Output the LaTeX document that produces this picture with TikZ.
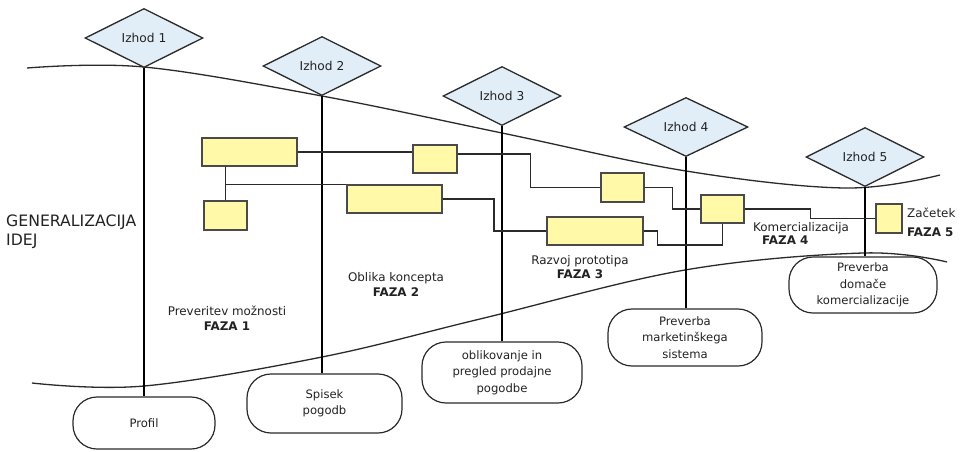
\documentclass[tikz,border=0pt]{standalone}
\usepackage{fontspec}
\setmainfont{DejaVu Sans}
\usetikzlibrary{shapes.geometric}
\definecolor{dfill}{HTML}{E1EEF8}
\definecolor{yfill}{HTML}{FFF9A8}
\definecolor{ln}{HTML}{2A2A2A}
\definecolor{tx}{HTML}{222222}
\begin{document}
\begin{tikzpicture}[x=1pt,y=-1pt,
  diam/.style={diamond,draw=ln,fill=dfill,line width=1.3pt,minimum width=118pt,minimum height=59pt,inner sep=0pt,text=tx,font=\fontsize{12.2}{14}\selectfont},
  ybox/.style={rectangle,draw=ln!85,fill=yfill,line width=1.2pt,inner sep=0pt},
  rbox/.style={rectangle,draw=ln,rounded corners=24pt,line width=1.2pt,align=center,inner sep=0pt,text=tx,font=\fontsize{11.6}{16.5}\selectfont},
  vline/.style={draw=black,line width=2.8pt},
  conn/.style={draw=ln,line width=1.4pt},
  curve/.style={draw=ln,line width=1.3pt},
  lbl/.style={inner sep=0pt,text=tx,font=\fontsize{11.9}{14.8}\selectfont}
]
\fill[white] (0,0) rectangle (964,451);
\useasboundingbox (0,0) rectangle (964,451);

% boundary curves
\draw[curve] plot[smooth,tension=0.6] coordinates {(27,68) (144,67) (322,96) (502,133) (686,171) (845,188) (940,175)};
\draw[curve] plot[smooth,tension=0.6] coordinates {(32,383) (144,386) (322,357) (480,319) (685,270) (863,253) (947,262)};

% exits
\node[diam] (d1) at (144,38) {Izhod 1};
\node[diam] (d2) at (322,66) {Izhod 2};
\node[diam] (d3) at (502,96) {Izhod 3};
\node[diam,minimum width=124pt] (d4) at (686,127) {Izhod 4};
\node[diam] (d5) at (865,157) {Izhod 5};

% results
\node[rbox,minimum width=142pt,minimum height=52pt] (r1) at (144,423) {Profil};
\node[rbox,minimum width=155pt,minimum height=59pt] (r2) at (324.5,403.5) {Spisek\\pogodb};
\node[rbox,minimum width=160pt,minimum height=61pt] (r3) at (502,372.5) {oblikovanje in\\pregled prodajne\\pogodbe};
\node[rbox,minimum width=154pt,minimum height=57pt] (r4) at (685,337.5) {Preverba\\marketinškega\\sistema};
\node[rbox,minimum width=148pt,minimum height=56pt] (r5) at (863,285) {Preverba\\domače\\komercializacije};

% vertical lines
\draw[vline] (d1.south) -- (d1.south |- r1.north);
\draw[vline] (d2.south) -- (d2.south |- r2.north);
\draw[vline] (d3.south) -- (d3.south |- r3.north);
\draw[vline] (d4.south) -- (d4.south |- r4.north);
\draw[vline] (d5.south) -- (d5.south |- r5.north);

% yellow boxes
\node[ybox,minimum width=95pt,minimum height=28pt] (b1) at (249.5,152) {};
\node[ybox,minimum width=44pt,minimum height=28pt] (b2) at (435,159) {};
\node[ybox,minimum width=95pt,minimum height=28pt] (b3) at (394.5,199) {};
\node[ybox,minimum width=43pt,minimum height=29pt] (b4) at (225.5,215.5) {};
\node[ybox,minimum width=96pt,minimum height=28pt] (b5) at (595,231) {};
\node[ybox,minimum width=43pt,minimum height=29pt] (b6) at (622.5,187.5) {};
\node[ybox,minimum width=43pt,minimum height=28pt] (b7) at (722.5,209) {};
\node[ybox,minimum width=26pt,minimum height=29pt] (b8) at (889,218.5) {};

% connectors
\coordinate (j1) at (b4.north |- b3.north);
\draw[conn] (b1.east) -- (b1.east -| b2.west);
\draw[conn] (b4.north |- b1.south) -- (b4.north);
\draw[conn] (j1) -- (b3.north west);
\draw[conn] ([yshift=5pt]b2.east) -- ++(73,0) |- (b6.west);
\draw[conn] (b3.east) -- ++(51.5,0) |- (b5.west);
\draw[conn] (b6.east) -- ++(28,0) |- (b7.west);
\draw[conn] (b5.east) -- ++(14,0) -- ++(0,14) -| (b7.south);
\draw[conn] (b7.east) -- ++(66,0) |- (b8.west);

% labels
\node[lbl,anchor=west,align=left,font=\fontsize{15.7}{19}\selectfont] (gen) at (6,232) {GENERALIZACIJA\\IDEJ};
\node[lbl,align=center] (f1) at (227,318.5) {Preveritev možnosti\\\textbf{FAZA 1}};
\node[lbl,align=center] (f2) at (396,284.5) {Oblika koncepta\\\textbf{FAZA 2}};
\node[lbl,align=center] (f3) at (580,267) {Razvoj prototipa\\\textbf{FAZA 3}};
\node[lbl,anchor=west,align=left,font=\fontsize{11.9}{13.5}\selectfont] (f4) at (753,233.5) {Komercializacija\\\hspace*{9pt}\textbf{FAZA 4}};
\node[lbl,anchor=west,align=left,font=\fontsize{11.9}{19}\selectfont] (f5) at (907,222.5) {Začetek\\\textbf{FAZA 5}};
\end{tikzpicture}
\end{document}
